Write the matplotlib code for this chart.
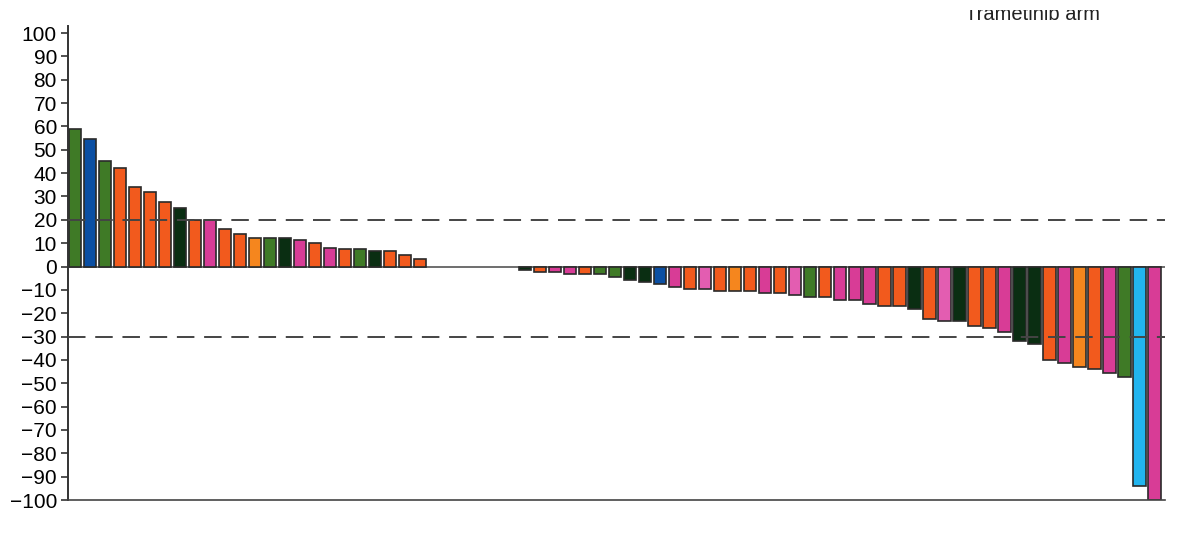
import matplotlib
matplotlib.use("Agg")
import matplotlib.pyplot as plt
from matplotlib.patches import Rectangle
import numpy as np

plt.rcParams['font.family'] = ['Liberation Sans', 'DejaVu Sans']

# Best % change from baseline per patient (waterfall), sorted
values = [59, 54.5, 45, 42, 34, 32, 27.5, 25, 20, 20, 16, 14, 12, 12, 12, 11.5,
          10, 8, 7.5, 7.5, 6.5, 6.5, 5, 3,
          0, 0, 0, 0, 0, 0,
          -1.3, -2.4, -2.4, -3.4, -3.4, -3.4, -4.5, -5.6, -6.7, -7.4, -8.8, -9.5,
          -9.5, -10.5, -10.5, -10.5, -11.4, -11.4, -12.4, -13.1, -13.1, -14.2,
          -14.2, -15.9, -17.1, -17.1, -18.1, -22.3, -23.3, -23.3, -25.5, -26.2,
          -28, -31.9, -33.3, -40.1, -41.3, -43.2, -44, -45.4, -47.2, -94.2, -100]

# category keys per bar
groups = ['G', 'B', 'G', 'O', 'O', 'O', 'O', 'D', 'O', 'P', 'O', 'O', 'L', 'G', 'D', 'P',
          'O', 'P', 'O', 'G', 'D', 'O', 'O', 'O',
          'O', 'O', 'O', 'O', 'O', 'O',
          'D', 'O', 'P', 'P', 'O', 'G', 'G', 'D', 'D', 'B', 'P', 'O',
          'Q', 'O', 'L', 'O', 'P', 'O', 'Q', 'G', 'O', 'P',
          'P', 'P', 'O', 'O', 'D', 'O', 'Q', 'D', 'O', 'O',
          'P', 'D', 'D', 'O', 'P', 'L', 'O', 'P', 'G', 'C', 'P']

palette = {'G': '#3f7a26', 'B': '#0b4fa3', 'D': '#0a2e12', 'O': '#f25a1d',
           'L': '#f5861e', 'P': '#d83c96', 'Q': '#e35db1', 'C': '#22b5ef'}

thresholds = [20, -30]
yticks = list(range(-100, 101, 10))
annotation = 'Trametinib arm'

fig = plt.figure(figsize=(12, 5.52), dpi=100)
ax = fig.add_axes([0.0567, 0.0942, 0.9143, 0.8587])

x = np.arange(len(values))
colors = [palette[g] for g in groups]
lws = [1.2 if v != 0 else 0 for v in values]
ax.bar(x, values, width=0.83, color=colors, edgecolor='#2a2a2a', linewidth=lws, zorder=2)
ax.axhline(0, color='#555555', linewidth=1.2, zorder=1)
for t in thresholds:
    ax.axhline(t, color='#444444', linewidth=1.4, dashes=(9, 5), zorder=3)

ax.set_xlim(-0.45, 72.7)
ax.set_ylim(-100, 103)
ax.set_yticks(yticks)
ax.set_yticklabels([str(v).replace('-', '\u2212') for v in yticks], fontsize=15)
ax.set_xticks([])
ax.tick_params(axis='y', direction='out', length=5, width=1.2, color='#333333', pad=3)
for s in ['top', 'right']:
    ax.spines[s].set_visible(False)
ax.spines['left'].set_color('#333333')
ax.spines['left'].set_linewidth(1.4)
ax.spines['bottom'].set_color('#444444')
ax.spines['bottom'].set_linewidth(1.2)
ax.spines['bottom'].set_position(('data', -100))

fig.text(0.804, 1 - 20 / 552, annotation, fontsize=14.5, ha='left', va='baseline', color='#222222')
# the source image is cropped through the top of the annotation
fig.patches.append(Rectangle((0, 1 - 10 / 552), 1, 10 / 552, transform=fig.transFigure,
                             facecolor='white', edgecolor='none', zorder=10))

fig.savefig('out.png', dpi=100)
